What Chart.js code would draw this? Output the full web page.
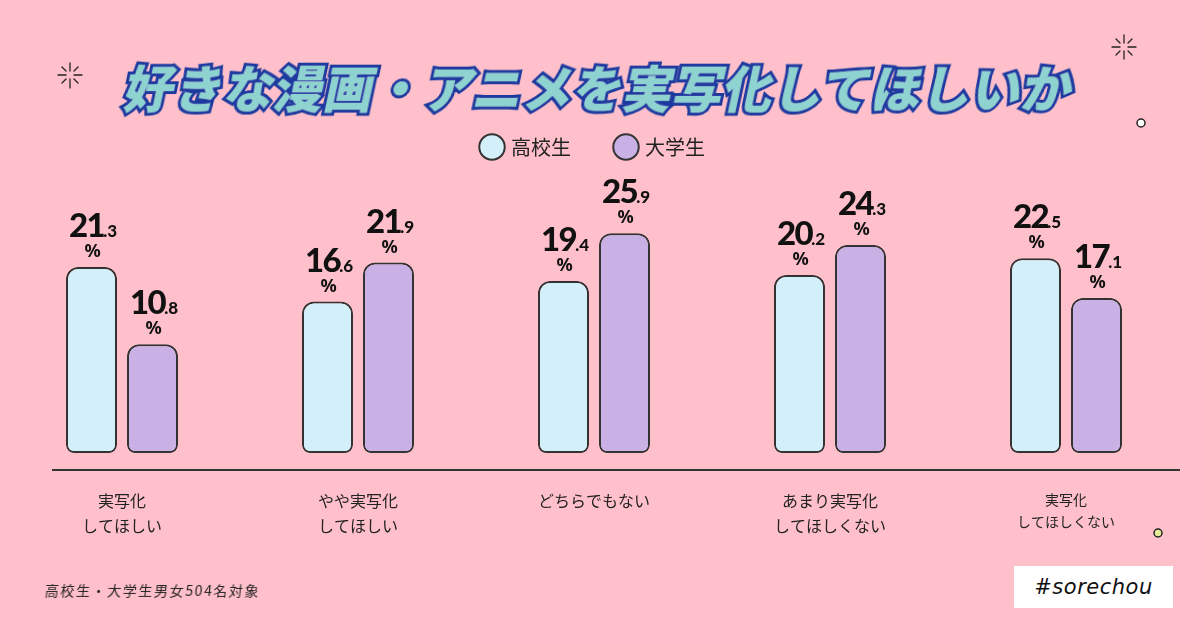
<!DOCTYPE html>
<html><head><meta charset="utf-8">
<script src="https://cdn.jsdelivr.net/npm/chart.js@4"></script>
<style>
html,body{margin:0;padding:0;background:#FFC0CB;}
#wrap{position:relative;width:1200px;height:630px;overflow:hidden;background:#FFC0CB;}
canvas{position:absolute;left:0;top:0;}
#title{position:absolute;left:0;width:1200px;top:50px;text-align:center;font-family:"Noto Sans CJK JP";font-weight:900;font-size:50px;color:#8ED3CF;-webkit-text-stroke:6px #1C3A9E;paint-order:stroke fill;transform:skewX(-12deg);letter-spacing:0px;white-space:nowrap;text-shadow:0 0 1.5px #7A5CC0;}
#note{position:absolute;left:45px;top:580px;font-family:"Noto Sans CJK JP";font-size:14px;color:#222;letter-spacing:1.6px;transform:skewX(-6deg);}
#tag{position:absolute;left:1014px;top:566px;width:159px;height:42px;background:#fff;font-family:"DejaVu Sans";font-style:oblique;font-size:21px;color:#111;text-align:center;line-height:42px;letter-spacing:0.5px;}
svg{position:absolute;left:0;top:0;}
</style></head>
<body><div id="wrap">
<canvas id="c" width="1200" height="630"></canvas>
<div id="title">好きな漫画・アニメを実写化してほしいか</div>
<div id="note">高校生・大学生男女504名対象</div>
<div id="tag">#sorechou</div>
<svg width="1200" height="630">
 <g stroke="#222" stroke-width="1.3" stroke-linecap="round">
  <line x1="70" y1="63" x2="70" y2="71"/><line x1="70" y1="79" x2="70" y2="88"/>
  <line x1="58" y1="75" x2="66" y2="75"/><line x1="74" y1="75" x2="82" y2="75"/>
  <line x1="62" y1="67" x2="66" y2="71"/><line x1="74" y1="79" x2="78" y2="83"/>
  <line x1="78" y1="67" x2="74" y2="71"/><line x1="66" y1="79" x2="62" y2="83"/>
  <line x1="1124" y1="35" x2="1124" y2="43"/><line x1="1124" y1="51" x2="1124" y2="59"/>
  <line x1="1112" y1="47" x2="1120" y2="47"/><line x1="1128" y1="47" x2="1136" y2="47"/>
  <line x1="1116" y1="39" x2="1120" y2="43"/><line x1="1128" y1="51" x2="1132" y2="55"/>
  <line x1="1132" y1="39" x2="1128" y2="43"/><line x1="1120" y1="51" x2="1116" y2="55"/>
 </g>
 <circle cx="1141" cy="123" r="4" fill="#fff" stroke="#222" stroke-width="1.5"/>
 <circle cx="1158" cy="533" r="4" fill="#E4EE9A" stroke="#222" stroke-width="1.5"/>
</svg>
</div>
<script>
const categories = [["実写化","してほしい"],["やや実写化","してほしい"],"どちらでもない",["あまり実写化","してほしくない"],["実写化","してほしくない"]];
const seriesNames = ["高校生","大学生"];
const highSchool = [21.3, 16.6, 19.4, 20.2, 22.5];
const university = [10.8, 21.9, 25.9, 24.3, 17.1];
const seriesColors = ["#D3EFF9", "#C9B1E6"];

const valueLabels = {
  id:'valueLabels',
  afterDatasetsDraw(chart){
    const ctx = chart.ctx;
    chart.data.datasets.forEach((ds,di)=>{
      const meta = chart.getDatasetMeta(di);
      meta.data.forEach((bar,i)=>{
        const v = ds.data[i];
        const parts = v.toFixed(1).split('.');
        ctx.save();
        ctx.fillStyle = '#111';
        ctx.textBaseline = 'alphabetic';
        ctx.textAlign = 'left';
        const f1 = '900 33px Lato', f2 = '900 17px Lato';
        ctx.letterSpacing = '-1.5px';
        ctx.font = f1; const w1 = ctx.measureText(parts[0]).width;
        ctx.letterSpacing = '0px';
        ctx.font = f2; const w2 = ctx.measureText('.'+parts[1]).width;
        const x0 = bar.x - (w1+w2)/2 + 2;
        const yb = bar.y - 30;
        ctx.letterSpacing = '-1.5px';
        ctx.font = f1; ctx.fillText(parts[0], x0, yb);
        ctx.letterSpacing = '0px';
        ctx.font = f2; ctx.fillText('.'+parts[1], x0+w1-1, yb);
        ctx.font = 'bold 18px "Noto Sans"'; ctx.textAlign='center';
        ctx.fillText('%', bar.x+1, bar.y - 10);
        ctx.restore();
      });
    });
  }
};
const axisLine = {
  id:'axisLine',
  beforeDatasetsDraw(chart){
    const ctx = chart.ctx, y = chart.chartArea.bottom;
    ctx.save(); ctx.strokeStyle='#333'; ctx.lineWidth=2;
    ctx.beginPath(); ctx.moveTo(52,y); ctx.lineTo(1180,y); ctx.stroke(); ctx.restore();
  }
};
const legendMargin = {
  id:'legendMargin',
  beforeInit(chart){
    const fit = chart.legend.fit;
    chart.legend.fit = function(){ fit.bind(chart.legend)(); this.height = 112; };
  }
};

new Chart(document.getElementById('c'), {
  type:'bar',
  data:{
    labels: categories,
    datasets:[
      {label:seriesNames[0], data:highSchool, backgroundColor:seriesColors[0]},
      {label:seriesNames[1], data:university, backgroundColor:seriesColors[1]}
    ].map(d=>Object.assign(d,{borderColor:'#333',borderWidth:2,borderSkipped:false,
      borderRadius:{topLeft:12,topRight:12,bottomLeft:8,bottomRight:8},base:-4,
      barPercentage:0.836,categoryPercentage:0.517}))
  },
  options:{
    responsive:false,animation:false,
    layout:{padding:{top:91,left:4,right:16,bottom:60}},
    plugins:{
      legend:{position:'top',labels:{usePointStyle:true,pointStyle:'circle',padding:46,color:'#222',
        boxWidth:18,boxHeight:18,font:{family:'"Noto Sans CJK JP"',size:20}}},
      tooltip:{enabled:false}
    },
    scales:{
      x:{grid:{display:false},border:{display:false},
        afterFit(s){ s.height = 100; },
        ticks:{padding:10,color:'#222',maxRotation:0,autoSkip:false,
          font:(c)=>({family:'"Noto Sans CJK JP"',size:c.index===4?14:16,lineHeight:1.6})}},
      y:{display:false,min:-6.3,max:30}
    }
  },
  plugins:[valueLabels,axisLine,legendMargin]
});
</script>
</body></html>
